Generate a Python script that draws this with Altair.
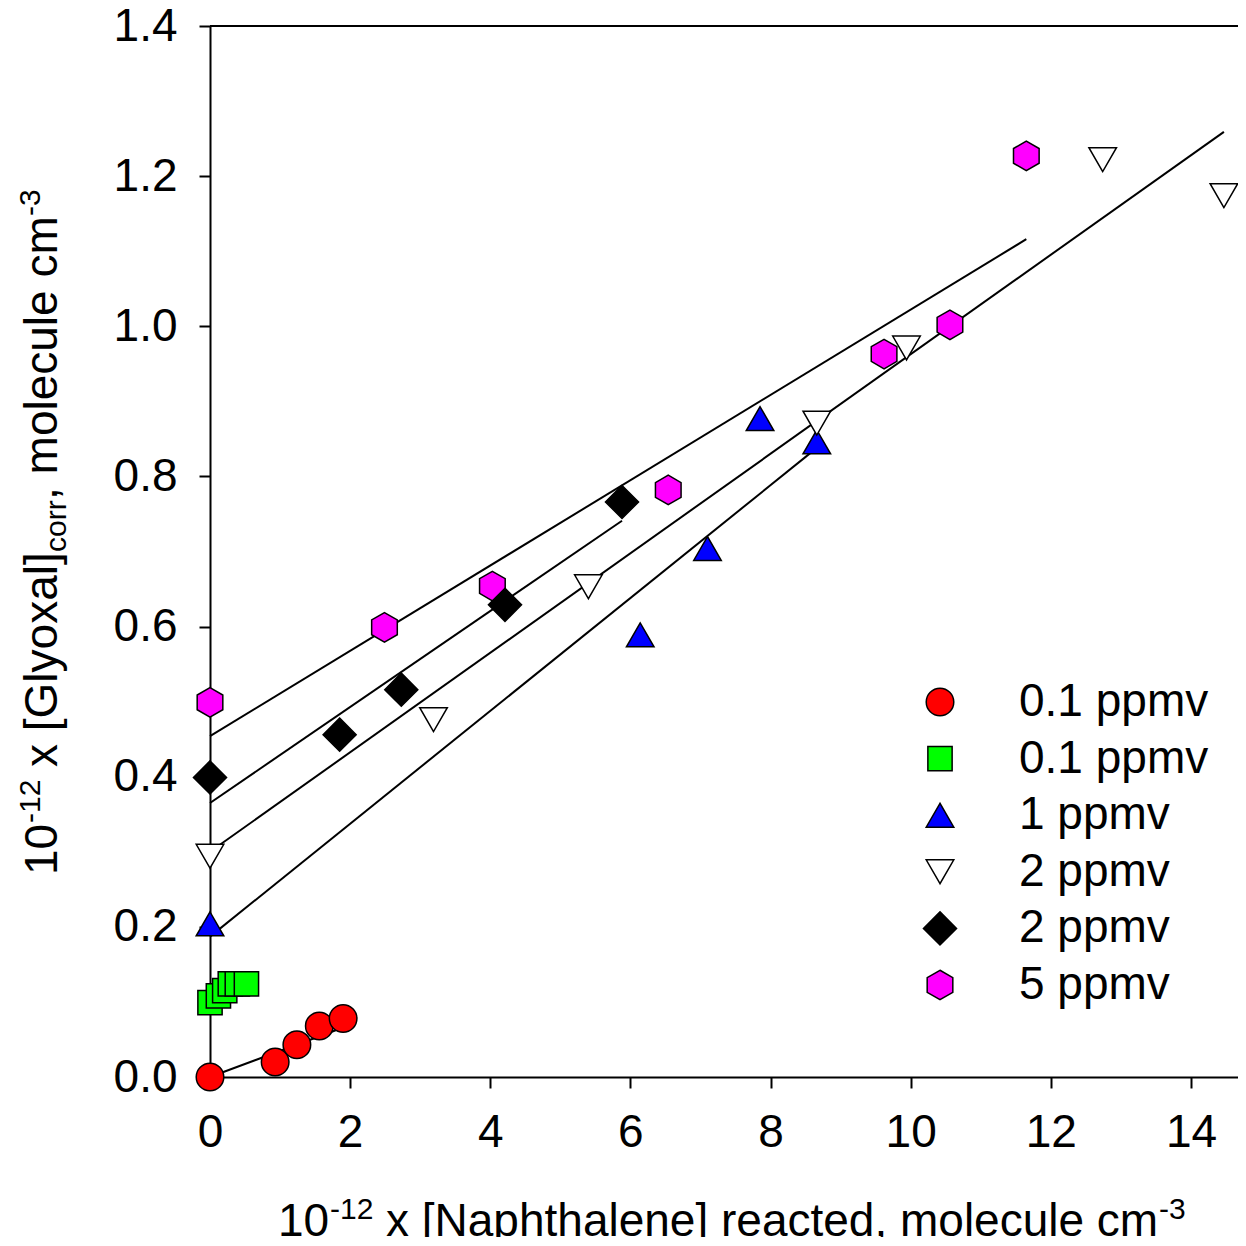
import altair as alt
import pandas as pd

FONT = "Liberation Sans"

# ---------------- data ----------------
red_x = [0.0, 0.93, 1.24, 1.56, 1.90]
red_y = [0.0, 0.020, 0.043, 0.068, 0.078]

green_x = [0.0, 0.12, 0.21, 0.29, 0.39, 0.52]
green_y = [0.099, 0.108, 0.115, 0.124, 0.124, 0.124]

blue_x = [0.0, 6.14, 7.10, 7.85, 8.66]
blue_y = [0.204, 0.589, 0.704, 0.877, 0.846]

white_x = [0.0, 3.19, 5.40, 8.66, 9.94, 12.74, 14.47]
white_y = [0.294, 0.476, 0.653, 0.871, 0.971, 1.222, 1.174]

black_x = [0.0, 1.85, 2.73, 4.21, 5.88]
black_y = [0.399, 0.456, 0.516, 0.629, 0.766]

mag_x = [0.0, 2.49, 4.03, 6.54, 9.62, 10.56, 11.65]
mag_y = [0.499, 0.599, 0.654, 0.782, 0.963, 1.002, 1.227]

series_keys = ["s1", "s2", "s3", "s4", "s5", "s6"]
series_labels = ["0.1 ppmv", "0.1 ppmv", "1 ppmv", "2 ppmv", "2 ppmv", "5 ppmv"]
series_fill = ["#ff0000", "#00ff00", "#0000ff", "#ffffff", "#000000", "#ff00ff"]

# fitted lines (start / end)
line_keys = ["s1", "s3", "s4", "s5", "s6"]
line_x0 = [0.0, 0.0, 0.0, 0.0, 0.0]
line_y0 = [0.0, 0.187, 0.300, 0.365, 0.454]
line_x1 = [1.90, 8.66, 14.47, 5.88, 11.65]
line_y1 = [0.066, 0.838, 1.259, 0.741, 1.116]

x_ticks = [0, 2, 4, 6, 8, 10, 12, 14]
y_ticks = [0.0, 0.2, 0.4, 0.6, 0.8, 1.0, 1.2, 1.4]

# ---------------- tables ----------------
draw_order = [("s1", red_x, red_y), ("s2", green_x, green_y), ("s3", blue_x, blue_y),
              ("s4", white_x, white_y), ("s6", mag_x, mag_y), ("s5", black_x, black_y)]
rows = []
for k, xs, ys in draw_order:
    for a, b in zip(xs, ys):
        rows.append({"key": k, "x": a, "y": b})
pts = pd.DataFrame(rows)
lines = pd.DataFrame({"key": line_keys, "x0": line_x0, "y0": line_y0,
                      "x1": line_x1, "y1": line_y1})

# ---------------- styling ----------------
W, H = 1028, 1051
X_MAX = W / 70.07
hexagon = "M0,-1.07L0.93,-0.535L0.93,0.535L0,1.07L-0.93,0.535L-0.93,-0.535Z"
square = "M-0.88,-0.88L0.88,-0.88L0.88,0.88L-0.88,0.88Z"
diamond = "M0,-1.2L1.2,0L0,1.2L-1.2,0Z"
shapes = ["circle", square, "triangle-up", "triangle-down", diamond, hexagon]

xscale = alt.Scale(domain=[0, X_MAX], nice=False, zero=False)
yscale = alt.Scale(domain=[0, 1.4], nice=False, zero=False)

common_axis = dict(title=None, grid=False, labelFontSize=46, labelFont=FONT,
                   labelColor="black", tickSize=11, tickWidth=2, tickColor="black",
                   domainWidth=2, domainColor="black", labelFlush=False,
                   labelOverlap=False)
x_axis = alt.Axis(values=x_ticks, format="d", labelPadding=22, **common_axis)
y_axis = alt.Axis(values=y_ticks, format=".1f", labelPadding=22, **common_axis)

label_expr = " : ".join(
    f"datum.value == '{k}' ? '{l}'" for k, l in zip(series_keys, series_labels)
) + " : ''"
legend = alt.Legend(title=None, labelExpr=label_expr, labelLimit=500)

rules = alt.Chart(lines).mark_rule(color="black", strokeWidth=2).encode(
    x=alt.X("x0:Q", scale=xscale, axis=x_axis),
    y=alt.Y("y0:Q", scale=yscale, axis=y_axis),
    x2="x1:Q",
    y2="y1:Q",
)

points = alt.Chart(pts).mark_point(
    filled=True, opacity=1, strokeWidth=1.5, size=760
).encode(
    x=alt.X("x:Q", scale=xscale, axis=x_axis),
    y=alt.Y("y:Q", scale=yscale, axis=y_axis),
    fill=alt.Fill("key:N", scale=alt.Scale(domain=series_keys, range=series_fill),
                  legend=legend),
    shape=alt.Shape("key:N", scale=alt.Scale(domain=series_keys, range=shapes),
                    legend=legend),
    stroke=alt.Stroke("key:N", scale=alt.Scale(domain=series_keys, range=["black"] * 6),
                      legend=legend),
)

frame = alt.Chart(alt.Data(values=[{}])).mark_rule(color="black", strokeWidth=2).encode(
    x=alt.value(0), x2=alt.value(W), y=alt.value(0)
)


def txt(s, x, y, size, angle=0):
    return alt.Chart(alt.Data(values=[{}])).mark_text(
        text=s, font=FONT, fontSize=size, color="black", align="left",
        baseline="alphabetic", angle=angle
    ).encode(x=alt.value(x), y=alt.value(y))


F, S = 46, 30
# x-axis title pieces
xb = 1210
x_title = [
    txt("10", 68, xb, F),
    txt("-12", 120, xb - 17, S),
    txt("x [Naphthalene] reacted, molecule cm", 176, xb, F),
    txt("-3", 949, xb - 17, S),
]
# y-axis title pieces (rotated, reading upward)
yb = -153
y_title = [
    txt("10", yb, 849, F, 270),
    txt("-12", yb - 17, 797, S, 270),
    txt("x [Glyoxal]", yb, 741, F, 270),
    txt("corr", yb + 9, 526, S, 270),
    txt(", molecule cm", yb, 474, F, 270),
    txt("-3", yb - 17, 190, S, 270),
]

chart = alt.layer(rules, frame, points, *x_title, *y_title).properties(
    width=W, height=H,
    autosize=alt.AutoSizeParams(type="none"),
    padding={"left": 202, "top": 18, "right": 0, "bottom": 160},
).configure_view(stroke=None).configure_legend(
    orient="none", legendX=707, legendY=653, labelFontSize=46, labelFont=FONT,
    labelColor="black", symbolSize=760, symbolStrokeColor="black",
    symbolStrokeWidth=1.5, rowPadding=10.6, labelOffset=56, padding=0,
)

chart.save("out.html", embed_options={"renderer": "svg", "actions": False})
